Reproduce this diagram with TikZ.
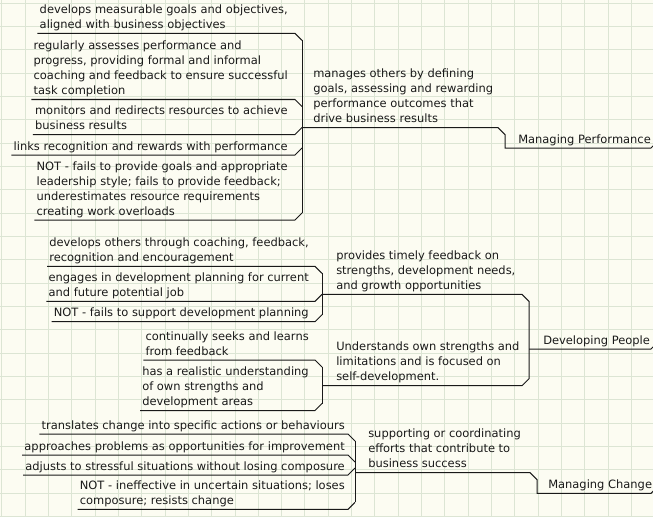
\documentclass[tikz,border=0pt]{standalone}
\usepackage{fontspec}
\setmainfont{DejaVu Sans}
\usetikzlibrary{calc,positioning}

\definecolor{paper}{RGB}{252,252,242}
\definecolor{gridgreen}{RGB}{220,229,212}
\definecolor{ink}{RGB}{25,25,25}

\tikzset{
  topic/.style={align=left,inner xsep=1.5pt,inner ysep=0pt,text=ink,font=\fontsize{8.6}{11.25}\selectfont},
  lefttopic/.style={topic,anchor=south east},
  righttopic/.style={topic,anchor=south west},
  branch/.style={draw=ink,line width=0.75pt},
}

\begin{document}
\begin{tikzpicture}[x=0.75pt,y=-0.75pt]
\clip (0,0) rectangle (653,517);
\fill[paper] (0,0) rectangle (653,517);
\foreach \i in {0,...,28}
  \draw[gridgreen,line width=0.75pt] ({1.7+23.33*\i},0) -- ++(0,517);
\foreach \i in {0,...,22}
  \draw[gridgreen,line width=0.75pt] (0,{3.3+23.33*\i}) -- ++(653,0);

% bracket columns
\coordinate (B1) at (302,0);
\coordinate (B2) at (322,0);
\coordinate (B3) at (355,0);
\coordinate (R1) at (505,0);
\coordinate (R2) at (529,0);
\coordinate (R3) at (537,0);
\coordinate (E) at (651,0);

% Managing Performance
\node[lefttopic] (a1) at (290,33.3) {develops measurable goals and objectives,\\aligned with business objectives\strut};
\node[lefttopic] (a2) at (290,99.5) {regularly assesses performance and\\progress, providing formal and informal\\coaching and feedback to ensure successful\\task completion\strut};
\node[lefttopic] (a3) at (290,134.5) {monitors and redirects resources to achieve\\business results\strut};
\node[lefttopic] (a4) at (290,155) {links recognition and rewards with performance\strut};
\node[lefttopic] (a5) at (290,220) {NOT - fails to provide goals and appropriate\\leadership style; fails to provide feedback;\\underestimates resource requirements\\creating work overloads\strut};
\node[righttopic] (m1) at (311,127.7) {manages others by defining\\goals, assessing and rewarding\\performance outcomes that\\drive business results\strut};
\node[righttopic] (r1) at (516,148) {Managing Performance\strut};

\foreach \n/\d in {a1/7,a2/7,a3/-7,a4/-7,a5/-7}
  \draw[branch] (\n.south west) -- ($(\n.south -| B1)+(-7,0)$) -- ($(\n.south -| B1)+(0,\d)$);
\draw[branch] ($(a1.south -| B1)+(0,7)$) -- ($(a5.south -| B1)+(0,-7)$);
\draw[branch] (B1 |- m1.south) -- ($(m1.south -| R1)+(-7,0)$) -- ($(m1.south -| R1)+(0,7)$) -- (R1 |- r1.south) -- (r1.south -| E) -- ++(7,-7);

% Developing People
\node[lefttopic] (b1) at (311,266.3) {develops others through coaching, feedback,\\recognition and encouragement\strut};
\node[lefttopic] (b2) at (311,301.3) {engages in development planning for current\\and future potential job\strut};
\node[lefttopic] (b3) at (311,321.7) {NOT - fails to support development planning\strut};
\node[lefttopic] (c1) at (311,360) {continually seeks and learns\\from feedback\strut};
\node[lefttopic] (c2) at (311,410.5) {has a realistic understanding\\of own strengths and\\development areas\strut};
\node[righttopic] (m2) at (334,294.3) {provides timely feedback on\\strengths, development needs,\\and growth opportunities\strut};
\node[righttopic] (m3) at (334,385.7) {Understands own strengths and\\limitations and is focused on\\self-development.\strut};
\node[righttopic] (r2) at (541,349) {Developing People\strut};

\foreach \n/\d in {b1/7,b2/-7,b3/-7,c1/7,c2/-7}
  \draw[branch] (\n.south west) -- ($(\n.south -| B2)+(-7,0)$) -- ($(\n.south -| B2)+(0,\d)$);
\draw[branch] ($(b1.south -| B2)+(0,7)$) -- ($(b3.south -| B2)+(0,-7)$);
\draw[branch] ($(c1.south -| B2)+(0,7)$) -- ($(c2.south -| B2)+(0,-7)$);
\draw[branch] (B2 |- m2.south) -- ($(m2.south -| R2)+(-7,0)$) -- ($(m2.south -| R2)+(0,7)$) -- ($(m3.south -| R2)+(0,-7)$) -- ($(m3.south -| R2)+(-7,0)$) -- (B2 |- m3.south);
\draw[branch] (R2 |- r2.south) -- (r2.south -| E) -- ++(7,-7);

% Managing Change
\node[lefttopic] (d1) at (347,434) {translates change into specific actions or behaviours\strut};
\node[lefttopic] (d2) at (347,455) {approaches problems as opportunities for improvement\strut};
\node[lefttopic] (d3) at (347,475) {adjusts to stressful situations without losing composure\strut};
\node[lefttopic] (d4) at (347,509.3) {NOT - ineffective in uncertain situations; loses\\composure; resists change\strut};
\node[righttopic] (m4) at (366,472.7) {supporting or coordinating\\efforts that contribute to\\business success\strut};
\node[righttopic] (r3) at (546,493.3) {Managing Change\strut};

\foreach \n/\d in {d1/7,d2/7,d3/-7,d4/-7}
  \draw[branch] (\n.south west) -- ($(\n.south -| B3)+(-7,0)$) -- ($(\n.south -| B3)+(0,\d)$);
\draw[branch] ($(d1.south -| B3)+(0,7)$) -- ($(d4.south -| B3)+(0,-7)$);
\draw[branch] (B3 |- m4.south) -- ($(m4.south -| R3)+(-7,0)$) -- ($(m4.south -| R3)+(0,7)$) -- (R3 |- r3.south) -- (r3.south -| E) -- ++(7,-7);
\end{tikzpicture}
\end{document}
